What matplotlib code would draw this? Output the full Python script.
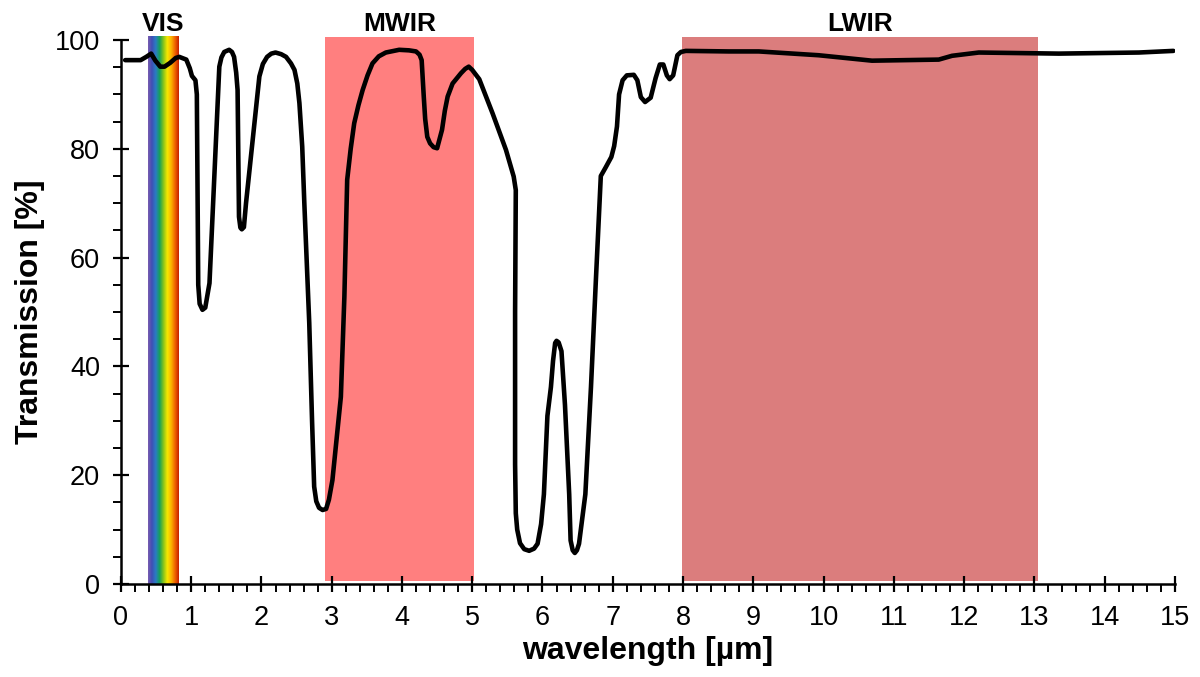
import matplotlib.pyplot as plt
import numpy as np
from matplotlib.colors import LinearSegmentedColormap
from matplotlib.ticker import MultipleLocator

plt.rcParams['font.family'] = ['Liberation Sans', 'DejaVu Sans']

# atmospheric transmission curve
wavelength = [0.06, 0.28, 0.36, 0.43, 0.49, 0.56, 0.62, 0.70, 0.78, 0.83,
              0.93, 0.98, 1.01, 1.06, 1.08, 1.10, 1.12, 1.16, 1.20, 1.23,
              1.26, 1.40, 1.43, 1.47, 1.54, 1.58, 1.61, 1.64, 1.66, 1.68,
              1.70, 1.72, 1.75, 1.78, 1.97, 2.02, 2.08, 2.14, 2.20, 2.28,
              2.35, 2.42, 2.47, 2.51, 2.54, 2.58, 2.61, 2.68, 2.72, 2.75,
              2.78, 2.82, 2.87, 2.92, 2.96, 3.01, 3.13, 3.18, 3.22, 3.27,
              3.32, 3.38, 3.44, 3.51, 3.58, 3.67, 3.77, 3.96, 4.10, 4.20,
              4.25, 4.28, 4.31, 4.33, 4.36, 4.40, 4.45, 4.50, 4.57, 4.61,
              4.65, 4.72, 4.84, 4.90, 4.95, 5.00, 5.10, 5.29, 5.48, 5.59,
              5.62, 5.61, 5.61, 5.62, 5.64, 5.68, 5.74, 5.81, 5.88, 5.93,
              5.98, 6.02, 6.07, 6.12, 6.15, 6.18, 6.20, 6.23, 6.27, 6.32,
              6.38, 6.40, 6.43, 6.46, 6.49, 6.52, 6.61, 6.69, 6.76, 6.83,
              6.90, 6.98, 7.02, 7.06, 7.09, 7.14, 7.20, 7.30, 7.35, 7.40,
              7.46, 7.54, 7.61, 7.67, 7.72, 7.77, 7.81, 7.86, 7.92, 7.97,
              8.04, 8.65, 9.08, 9.93, 10.69, 11.64, 11.83, 12.21, 13.35,
              14.49, 14.98]
transmission = [96.3, 96.3, 96.9, 97.5, 96.2, 95.1, 95.1, 95.8, 96.7, 96.9,
                96.4, 94.8, 93.4, 92.6, 90.0, 55.0, 51.5, 50.4, 50.8, 53.0,
                55.3, 95.1, 96.8, 97.8, 98.2, 97.8, 96.9, 94.0, 90.8, 67.5,
                65.5, 65.2, 65.6, 70.0, 93.3, 95.6, 96.9, 97.5, 97.7, 97.4,
                96.9, 95.7, 94.5, 92.0, 88.4, 80.4, 70.0, 48.0, 30.0, 17.9,
                15.2, 14.0, 13.6, 13.8, 15.5, 19.1, 34.4, 52.8, 74.3, 80.0,
                84.7, 88.0, 90.8, 93.5, 95.7, 97.0, 97.7, 98.2, 98.1, 97.9,
                97.3, 96.3, 89.6, 85.5, 82.2, 81.0, 80.3, 80.1, 83.5, 87.0,
                89.6, 92.0, 93.9, 94.7, 95.1, 94.5, 92.8, 86.5, 79.8, 74.9,
                72.4, 50.0, 22.0, 13.0, 10.0, 7.5, 6.4, 6.1, 6.5, 7.4,
                11.0, 16.5, 30.9, 36.2, 41.0, 44.3, 44.7, 44.4, 42.8, 32.9,
                16.5, 8.0, 6.2, 5.7, 6.2, 7.4, 16.5, 36.2, 55.9, 75.0,
                76.6, 78.5, 80.5, 84.1, 90.0, 92.6, 93.5, 93.6, 92.6, 89.5,
                88.6, 89.4, 93.0, 95.5, 95.5, 93.5, 92.8, 93.5, 97.2, 97.8,
                98.0, 97.9, 97.9, 97.2, 96.2, 96.4, 97.1, 97.7, 97.5,
                97.7, 98.0]

# spectral bands: name, start, end
band_names = ['VIS', 'MWIR', 'LWIR']
band_start = [0.38, 2.9, 7.98]
band_end = [0.82, 5.03, 13.05]
band_colors = [None, '#ff7f7f', '#db7d7d']

fig, ax = plt.subplots(figsize=(12, 6.77), dpi=100)
fig.subplots_adjust(left=0.1008, right=0.979, bottom=0.1374, top=0.9409)

rainbow = LinearSegmentedColormap.from_list(
    'vis', ['#7a5cb0', '#3f4fb5', '#2a7cc4', '#16a05a', '#86c41c',
            '#f6e800', '#fbb400', '#f06400', '#c41e00'])

for name, x0, x1, c in zip(band_names, band_start, band_end, band_colors):
    if c is None:
        im = ax.imshow(np.linspace(0, 1, 256).reshape(1, -1), cmap=rainbow,
                       extent=[x0, x1, 0, 100.6], aspect='auto', zorder=1)
        im.set_clip_on(False)
    else:
        ax.axvspan(x0, x1, ymin=0.006, ymax=1.006, color=c, lw=0,
                   zorder=1, clip_on=False)
    ax.text((x0 + x1) / 2, 101.7, name, ha='center', va='baseline',
            fontsize=19, fontweight='bold')

ax.plot(wavelength, transmission, color='black', lw=3.3, zorder=3,
        solid_joinstyle='round', solid_capstyle='round')

ax.set_xlim(0, 15)
ax.set_ylim(0, 100)

ax.spines['top'].set_visible(False)
ax.spines['right'].set_visible(False)
for s in ('left', 'bottom'):
    ax.spines[s].set_linewidth(1.8)
    ax.spines[s].set_zorder(4)

ax.xaxis.set_major_locator(MultipleLocator(1))
ax.xaxis.set_minor_locator(MultipleLocator(0.2))
ax.yaxis.set_major_locator(MultipleLocator(20))
ax.yaxis.set_minor_locator(MultipleLocator(5))
ax.tick_params(which='major', direction='inout', length=12, width=1.6,
               labelsize=19.5, pad=9)
ax.tick_params(which='minor', direction='out', length=5.5, width=1.4)

ax.set_xlabel('wavelength [µm]', fontsize=23, fontweight='bold', labelpad=4)
ax.set_ylabel('Transmission [%]', fontsize=23, fontweight='bold', labelpad=7)

fig.savefig('out.png', dpi=100)
